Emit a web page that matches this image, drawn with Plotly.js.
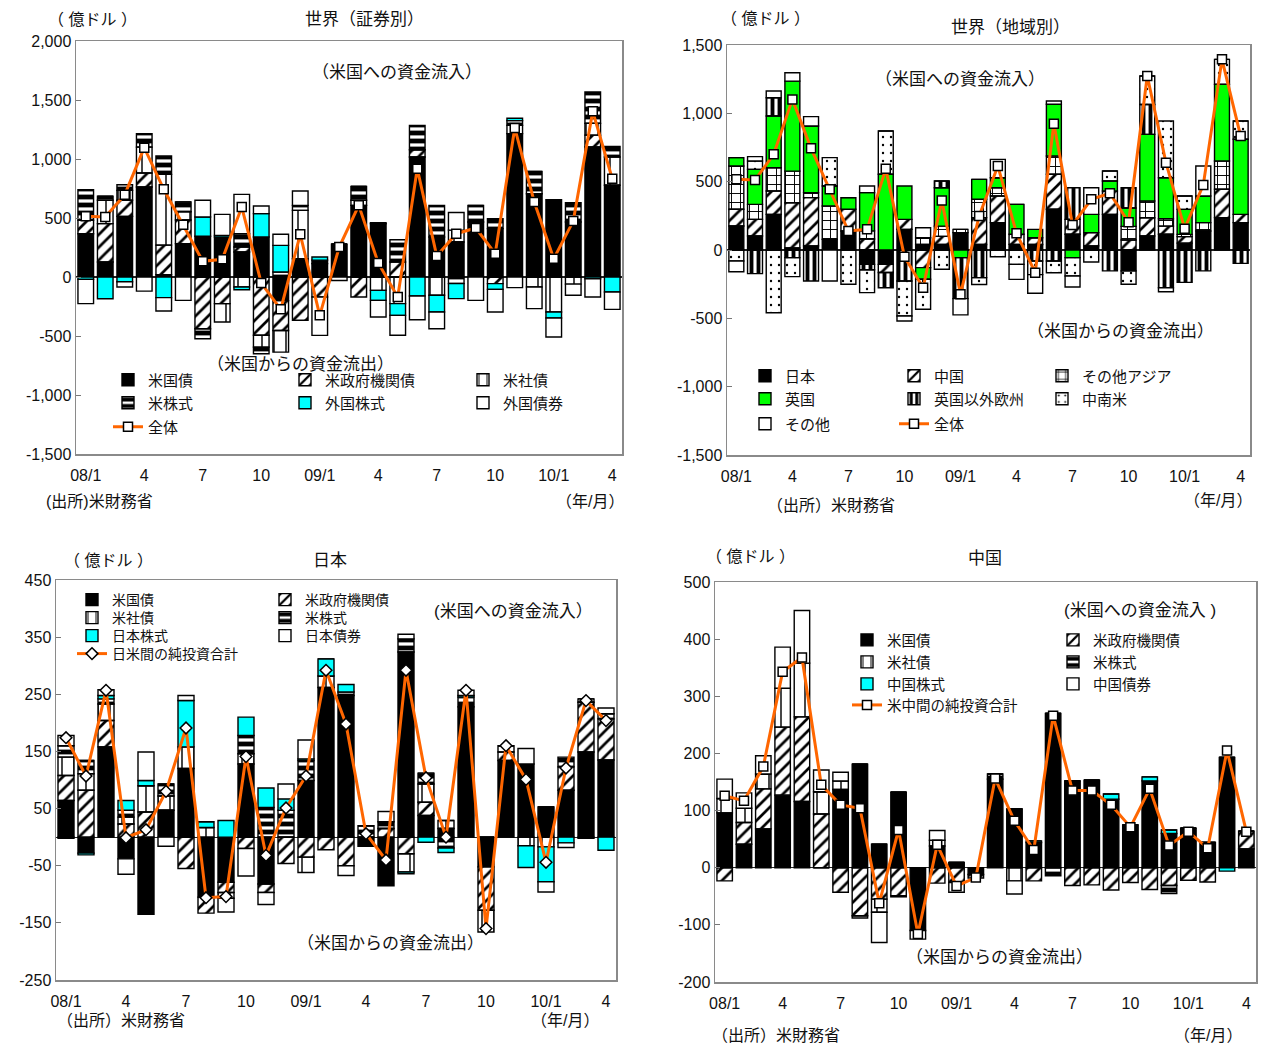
<!DOCTYPE html>
<html><head><meta charset="utf-8">
<script src="https://cdn.plot.ly/plotly-3.0.1.min.js"></script>
<style>body{margin:0;background:#fff}#chart{width:1267px;height:1043px}</style>
</head><body><div id="chart"></div>
<script>
// ---------------- data ----------------
const months = ['2008/01','2008/02','2008/03','2008/04','2008/05','2008/06','2008/07','2008/08','2008/09','2008/10','2008/11','2008/12',
                '2009/01','2009/02','2009/03','2009/04','2009/05','2009/06','2009/07','2009/08','2009/09','2009/10','2009/11','2009/12',
                '2010/01','2010/02','2010/03','2010/04'];
const xTickVals = ['2008/01','2008/04','2008/07','2008/10','2009/01','2009/04','2009/07','2009/10','2010/01','2010/04'];
const xTickText = ['08/1','4','7','10','09/1','4','7','10','10/1','4'];

// Panel 1: world by security (億ドル)
const w_treasury = [367,127,514,763,20,283,345,339,212,339,-200,155,113,277,607,452,0,1017,339,297,466,410,1215,706,655,466,1102,777];
const w_agency   = [113,325,136,118,250,200,-438,-226,42,-494,-254,-367,-170,0,-170,0,127,62,0,0,0,-56,0,0,0,0,100,0];
const w_corp     = [0,198,84,220,600,70,0,-155,-85,-100,-183,410,0,0,43,-113,-226,0,-155,100,0,0,70,-85,-297,-60,100,240];
const w_stock    = [260,34,48,114,155,83,-85,0,113,-56,42,42,30,0,118,8,189,206,268,-56,141,84,40,189,0,164,266,90];
const w_fstock   = [-20,-184,-40,0,-175,0,163,14,-23,198,226,0,27,0,0,-85,-99,-161,-142,-127,0,-49,20,0,-50,0,-15,-127];
const w_fbond    = [-206,0,-45,-120,-113,-198,142,178,333,65,94,122,-325,-30,0,-141,-169,-201,-141,150,-198,-192,-90,-183,-161,-95,-155,-147];
const w_total    = [514,508,698,1096,743,443,133,150,593,-51,-274,362,-325,254,607,119,-170,918,178,367,415,198,1263,636,155,474,1404,833];

// Panel 2: world by region
const r_japan  = [176,102,261,15,30,78,139,-105,-105,151,40,40,127,40,200,41,40,298,115,30,261,-153,102,115,50,139,237,200];
const r_china  = [122,122,171,330,353,0,159,80,-60,73,-129,60,0,197,195,74,50,256,109,97,171,73,134,60,48,0,207,61];
const r_asia   = [317,110,170,232,37,244,0,60,0,0,50,75,24,134,61,0,0,134,0,0,0,100,122,54,16,61,207,0];
const r_uk     = [61,256,378,659,487,146,85,280,554,244,-85,281,-56,146,73,219,61,378,-56,134,73,134,488,300,183,195,561,549];
const r_europe = [0,-173,134,-56,-227,0,0,-40,-111,-227,0,49,-300,-202,0,0,-80,-80,232,0,-153,149,219,-276,-237,-153,0,-98];
const r_latam  = [-80,61,-459,-139,0,208,-251,-167,317,-256,-220,-141,0,-50,-49,-105,-100,-86,-134,-88,73,-98,208,415,98,0,183,134];
const r_other  = [-79,32,49,61,69,-227,0,48,0,-37,73,0,-119,0,134,-110,-137,24,-81,195,0,0,0,-29,0,220,0,0];
const r_total  = [517,512,700,1102,744,444,139,151,595,-49,-276,363,-324,249,615,122,-166,924,183,371,415,203,1273,639,156,476,1395,834];

// Panel 3: Japan
const j_treasury = [64,-28,158,-38,-135,47,120,-105,-79,128,-82,0,99,262,248,-16,-85,324,38,15,228,-52,134,128,53,82,149,135];
const j_agency   = [44,82,46,23,44,0,-55,-28,-18,-20,-15,-46,-35,-22,-50,0,15,-29,23,0,0,-76,15,0,0,41,87,72];
const j_corp     = [32,29,29,12,46,25,38,17,-10,18,0,0,-27,20,0,0,0,-32,32,14,0,-38,11,-15,-17,0,0,0];
const j_stock    = [20,23,9,12,0,21,0,0,0,32,52,47,35,0,6,20,12,23,19,-19,17,0,0,0,0,17,6,9];
const j_jstock   = [-2,-3,6,17,9,0,81,10,29,32,34,20,3,30,13,0,0,-3,-9,-8,3,0,0,-38,-61,-10,-2,-23];
const j_jbond    = [18,0,10,-27,50,-16,9,0,-24,-48,-21,26,33,0,-17,0,18,8,0,0,9,0,0,27,-18,-8,0,10];
const j_total    = [174,107,257,-1,13,80,191,-106,-104,141,-32,51,107,292,198,6,-40,292,104,0,257,-160,160,101,-44,121,239,204];

// Panel 4: China
const c_treasury = [96,41,68,127,116,0,137,181,41,132,-110,38,9,-12,155,103,44,270,152,153,120,75,152,60,69,44,193,33];
const c_agency   = [-23,38,70,119,148,94,-43,-84,-55,-49,0,-27,-26,-6,0,0,-23,0,-31,-30,-39,-26,-38,-31,-22,-25,0,31];
const c_corp     = [25,25,26,68,94,39,15,0,-23,0,0,10,0,0,0,-23,0,0,0,0,0,0,0,0,0,0,0,0];
const c_stock    = [0,0,0,0,0,0,0,-4,0,0,0,0,0,0,9,0,0,-14,0,0,0,0,0,-14,0,0,0,0];
const c_cstock   = [0,0,0,0,0,0,0,0,0,0,0,0,0,0,0,0,3,0,0,0,9,0,7,6,0,0,-6,0];
const c_cbond    = [34,27,32,72,92,38,15,0,-53,-2,-15,17,-17,0,0,-23,0,0,0,0,0,0,0,0,0,0,0,0];
const c_total    = [126,117,177,343,368,145,110,104,-62,66,-116,40,-32,-17,156,82,31,266,135,135,110,71,138,39,63,34,205,63];

// tick labels
const p1TickVals = [-1500,-1000,-500,0,500,1000,1500,2000];
const p1TickText = ['-1,500','-1,000','-500','0','500','1,000','1,500','2,000'];
const p2TickVals = [-1500,-1000,-500,0,500,1000,1500];
const p2TickText = ['-1,500','-1,000','-500','0','500','1,000','1,500'];
const p3TickVals = [-250,-150,-50,50,150,250,350,450];
const p3TickText = ['-250','-150','-50','50','150','250','350','450'];
const p4TickVals = [-200,-100,0,100,200,300,400,500];
const p4TickText = ['-200','-100','0','100','200','300','400','500'];

// ---------------- styles ----------------
const W = 1267, H = 1043;
const FONT = 'Liberation Sans, Noto Sans CJK JP, sans-serif';
const px = x => x / W, py = y => 1 - y / H;
const ST = {
  black:  {color:'#000000'},
  hatch:  {color:'#ffffff', pattern:{shape:'/', fgcolor:'#000', size:9, solidity:0.3}},
  dash:   {color:'#ffffff', pattern:{shape:'|', fgcolor:'#000', size:12, solidity:0.12}},
  hstripe:{color:'#ffffff', pattern:{shape:'-', fgcolor:'#000', size:8, solidity:0.6}},
  cyan:   {color:'#00ffff'},
  white:  {color:'#ffffff'},
  green:  {color:'#00ff00'},
  grid:   {color:'#ffffff', pattern:{shape:'+', fgcolor:'#000', size:9, solidity:0.2}},
  vstripe:{color:'#ffffff', pattern:{shape:'|', fgcolor:'#000', size:7, solidity:0.55}},
  dots:   {color:'#ffffff', pattern:{shape:'.', fgcolor:'#000', size:8, solidity:0.07}}
};

const legends = {};
let nLeg = 0;
function legendAt(textX, rowY, size){
  nLeg++;
  const key = nLeg === 1 ? 'legend' : 'legend' + nLeg;
  legends[key] = {x:px(textX - 40), y:py(rowY), xanchor:'left', yanchor:'middle', orientation:'h',
    bgcolor:'rgba(0,0,0,0)', borderwidth:0, font:{family:FONT, size:size, color:'#111'},
    itemclick:false, itemdoubleclick:false};
  return key;
}
const traces = [];
function bar(ax, name, vals, st, lx, ly, fs){
  const m = {color: st.color, line:{color:'#000', width:1.4}};
  if (st.pattern) m.pattern = Object.assign({fillmode:'replace'}, st.pattern);
  traces.push({type:'bar', x:months, y:vals, name:name, marker:m,
    xaxis:'x'+(ax===1?'':ax), yaxis:'y'+(ax===1?'':ax), legend:legendAt(lx, ly, fs), showlegend:true, hoverinfo:'skip'});
}
function line(ax, name, vals, sym, lx, ly, fs){
  traces.push({type:'scatter', mode:'lines+markers', x:months, y:vals, name:name,
    line:{color:'#ff6600', width:3},
    marker:{symbol:sym, size:9, color:'#ffffff', line:{color:'#000', width:1.5}},
    xaxis:'x'+(ax===1?'':ax), yaxis:'y'+(ax===1?'':ax), legend:legendAt(lx, ly, fs), showlegend:true, hoverinfo:'skip'});
}

// Panel 1
bar(1,'米国債', w_treasury, ST.black, 148,380,15);
bar(1,'米政府機関債', w_agency, ST.hatch, 325,380,15);
bar(1,'米社債', w_corp, ST.dash, 503,380,15);
bar(1,'米株式', w_stock, ST.hstripe, 148,403,15);
bar(1,'外国株式', w_fstock, ST.cyan, 325,403,15);
bar(1,'外国債券', w_fbond, ST.white, 503,403,15);
line(1,'全体', w_total, 'square', 148,427,15);
// Panel 2
bar(2,'日本', r_japan, ST.black, 785,376,15);
bar(2,'中国', r_china, ST.hatch, 934,376,15);
bar(2,'その他アジア', r_asia, ST.grid, 1082,376,15);
bar(2,'英国', r_uk, ST.green, 785,399,15);
bar(2,'英国以外欧州', r_europe, ST.vstripe, 934,399,15);
bar(2,'中南米', r_latam, ST.dots, 1082,399,15);
bar(2,'その他', r_other, ST.white, 785,424,15);
line(2,'全体', r_total, 'square', 934,424,15);
// Panel 3
bar(3,'米国債', j_treasury, ST.black, 112,600,14);
bar(3,'米政府機関債', j_agency, ST.hatch, 305,600,14);
bar(3,'米社債', j_corp, ST.dash, 112,618,14);
bar(3,'米株式', j_stock, ST.hstripe, 305,618,14);
bar(3,'日本株式', j_jstock, ST.cyan, 112,636,14);
bar(3,'日本債券', j_jbond, ST.white, 305,636,14);
line(3,'日米間の純投資合計', j_total, 'diamond', 112,654,14);
// Panel 4
bar(4,'米国債', c_treasury, ST.black, 887,640,14.5);
bar(4,'米政府機関債', c_agency, ST.hatch, 1093,640,14.5);
bar(4,'米社債', c_corp, ST.dash, 887,662,14.5);
bar(4,'米株式', c_stock, ST.hstripe, 1093,662,14.5);
bar(4,'中国株式', c_cstock, ST.cyan, 887,684,14.5);
bar(4,'中国債券', c_cbond, ST.white, 1093,684,14.5);
line(4,'米中間の純投資合計', c_total, 'square', 887,705,14.5);

// ---------------- axes ----------------
function xax(x0, x1){
  return {domain:[px(x0), px(x1)], type:'category', range:[-0.5, 27.5],
    tickmode:'array', tickvals:xTickVals, ticktext:xTickText, ticks:'outside', ticklen:6, tickcolor:'rgba(0,0,0,0)',
    tickfont:{family:FONT, size:16, color:'#111'}, showline:true, mirror:true, linecolor:'#8a8a8a', linewidth:1.5,
    showgrid:false, zeroline:false, fixedrange:true};
}
function yax(y0, y1, r, tv, tt){
  return {domain:[py(y1), py(y0)], range:r, tickmode:'array', tickvals:tv, ticktext:tt,
    ticks:'inside', ticklen:5, tickcolor:'#777', tickfont:{family:FONT, size:16, color:'#111'},
    showline:true, mirror:true, linecolor:'#8a8a8a', linewidth:1.5, showgrid:false,
    zeroline:true, zerolinecolor:'#222', zerolinewidth:1.2, fixedrange:true};
}
const layout = {
  width:W, height:H, margin:{l:0, r:0, t:0, b:0}, paper_bgcolor:'#fff', plot_bgcolor:'#fff',
  barmode:'relative', bargap:0.2, showlegend:true, font:{family:FONT, color:'#111'},
  xaxis: Object.assign(xax(76, 622), {anchor:'y'}),
  yaxis: Object.assign(yax(41, 454, [-1500, 2000], p1TickVals, p1TickText), {anchor:'x'}),
  xaxis2: Object.assign(xax(727, 1250), {anchor:'y2'}),
  yaxis2: Object.assign(yax(45, 455, [-1500, 1500], p2TickVals, p2TickText), {anchor:'x2'}),
  xaxis3: Object.assign(xax(56, 616), {anchor:'y3'}),
  yaxis3: Object.assign(yax(580, 980, [-250, 450], p3TickVals, p3TickText), {anchor:'x3'}),
  xaxis4: Object.assign(xax(715, 1256), {anchor:'y4'}),
  yaxis4: Object.assign(yax(582, 982, [-200, 500], p4TickVals, p4TickText), {anchor:'x4'}),
  annotations: []
};
Object.assign(layout, legends);

function note(text, x, y, size, anchor){
  layout.annotations.push({text:text, xref:'paper', yref:'paper', x:px(x), y:py(y), xanchor:anchor||'center', yanchor:'middle',
    showarrow:false, font:{family:FONT, size:size, color:'#111'}});
}
// Panel 1 texts
note('（ 億ドル ）', 92, 20, 16);
note('世界（証券別）', 364, 20, 17);
note('（米国への資金流入）', 397, 73, 17);
note('（米国からの資金流出）', 300, 365, 17);
note('(出所)米財務省', 44, 502, 16, 'left');
note('（年/月）', 590, 502, 16);
// Panel 2 texts
note('（ 億ドル ）', 765, 18, 16);
note('世界（地域別）', 1010, 28, 17);
note('（米国への資金流入）', 960, 79, 17);
note('（米国からの資金流出）', 1120, 332, 17);
note('（出所）米財務省', 765, 505, 16, 'left');
note('（年/月）', 1218, 500, 16);
// Panel 3 texts
note('（ 億ドル ）', 108, 560, 16);
note('日本', 330, 560, 17);
note('(米国への資金流入）', 513, 611, 17);
note('（米国からの資金流出）', 390, 943, 17);
note('（出所）米財務省', 55, 1020, 16, 'left');
note('（年/月）', 565, 1020, 16);
// Panel 4 texts
note('（ 億ドル ）', 750, 556, 16);
note('中国', 985, 558, 17);
note('(米国への資金流入 )', 1140, 610, 17);
note('（米国からの資金流出）', 1000, 957, 17);
note('（出所）米財務省', 710, 1035, 16, 'left');
note('（年/月）', 1208, 1035, 16);

Plotly.newPlot('chart', traces, layout, {displayModeBar:false, staticPlot:true});
</script></body></html>
